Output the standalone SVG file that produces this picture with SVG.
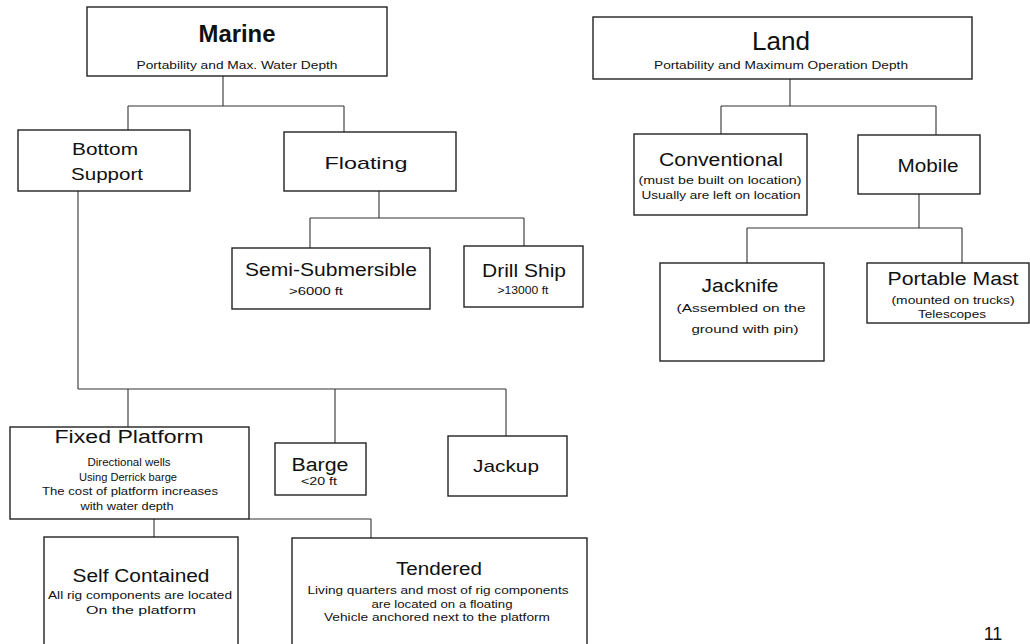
<svg xmlns="http://www.w3.org/2000/svg" width="1030" height="644" viewBox="0 0 1030 644">
<style>
.box{fill:#fff;stroke:#222;stroke-width:1.4}
.ln{fill:none;stroke:#333;stroke-width:1.1}
text{font-family:"Liberation Sans",Arial,sans-serif;fill:#111;text-anchor:middle}
.t1{font-size:17px}
.t2{font-size:18px}
.s{font-size:10.5px}
.s2{font-size:11px}
</style>
<rect width="1030" height="644" fill="#fff"/>
<g id="connectors">
<path class="ln" d="M223 76V106M128 106H344M128 106V130M344 106V132"/>
<path class="ln" d="M379 191V218M310 218H524M310 218V248M524 218V246"/>
<path class="ln" d="M78 191V389M78 389H506M128 389V427M335 389V443M506 389V436"/>
<path class="ln" d="M249 519H371M154 519V537M371 519V538"/>
<path class="ln" d="M790 79V106M721 106H936M721 106V134M936 106V135"/>
<path class="ln" d="M919 194V228M747 228H962M747 228V263M962 228V263"/>
</g>
<g id="marine"><rect class="box" x="87" y="7" width="300" height="69"/>
<text x="237" y="42" style="font-size:23px;font-weight:bold" textLength="77" lengthAdjust="spacingAndGlyphs">Marine</text>
<text class="s" x="237" y="69" textLength="201" lengthAdjust="spacingAndGlyphs">Portability and Max. Water Depth</text></g>
<g id="land"><rect class="box" x="593" y="17" width="379" height="62"/>
<text x="781" y="50" style="font-size:25px" textLength="58" lengthAdjust="spacingAndGlyphs">Land</text>
<text class="s" x="781" y="69" textLength="254" lengthAdjust="spacingAndGlyphs">Portability and Maximum Operation Depth</text></g>
<g id="bottom-support"><rect class="box" x="18" y="130" width="172" height="61"/>
<text class="t1" x="105" y="155" textLength="66" lengthAdjust="spacingAndGlyphs">Bottom</text>
<text class="t1" x="107" y="180" textLength="72" lengthAdjust="spacingAndGlyphs">Support</text></g>
<g id="floating"><rect class="box" x="284" y="132" width="172" height="59"/>
<text class="t1" x="366" y="169" textLength="83" lengthAdjust="spacingAndGlyphs">Floating</text></g>
<g id="semi-submersible"><rect class="box" x="232" y="248" width="198" height="61"/>
<text class="t2" x="331" y="276" textLength="172" lengthAdjust="spacingAndGlyphs">Semi-Submersible</text>
<text class="s" x="316" y="295" textLength="54" lengthAdjust="spacingAndGlyphs">&gt;6000 ft</text></g>
<g id="drill-ship"><rect class="box" x="464" y="246" width="119" height="61"/>
<text class="t2" x="524" y="277" textLength="84" lengthAdjust="spacingAndGlyphs">Drill Ship</text>
<text class="s" x="523" y="294" textLength="51" lengthAdjust="spacingAndGlyphs">&gt;13000 ft</text></g>
<g id="conventional"><rect class="box" x="634" y="134" width="173" height="81"/>
<text class="t2" x="721" y="166" textLength="124" lengthAdjust="spacingAndGlyphs">Conventional</text>
<text class="s2" x="720" y="184" textLength="163" lengthAdjust="spacingAndGlyphs">(must be built on location)</text>
<text class="s2" x="721" y="199" textLength="159" lengthAdjust="spacingAndGlyphs">Usually are left on location</text></g>
<g id="mobile"><rect class="box" x="858" y="135" width="122" height="59"/>
<text class="t2" x="928" y="172" textLength="61" lengthAdjust="spacingAndGlyphs">Mobile</text></g>
<g id="jacknife"><rect class="box" x="660" y="263" width="164" height="98"/>
<text class="t2" x="740" y="292" textLength="77" lengthAdjust="spacingAndGlyphs">Jacknife</text>
<text class="s2" x="741" y="312" textLength="129" lengthAdjust="spacingAndGlyphs">(Assembled on the</text>
<text class="s2" x="745" y="333" textLength="107" lengthAdjust="spacingAndGlyphs">ground with pin)</text></g>
<g id="portable-mast"><rect class="box" x="867" y="263" width="162" height="60"/>
<text class="t2" x="953" y="285" textLength="131" lengthAdjust="spacingAndGlyphs">Portable Mast</text>
<text class="s2" x="953" y="304" textLength="123" lengthAdjust="spacingAndGlyphs">(mounted on trucks)</text>
<text class="s2" x="952" y="318" textLength="68" lengthAdjust="spacingAndGlyphs">Telescopes</text></g>
<g id="fixed-platform"><rect class="box" x="10" y="427" width="239" height="92"/>
<text class="t2" x="129" y="443" textLength="149" lengthAdjust="spacingAndGlyphs">Fixed Platform</text>
<text class="s" x="129" y="466" textLength="83" lengthAdjust="spacingAndGlyphs">Directional wells</text>
<text class="s" x="128" y="481" textLength="98" lengthAdjust="spacingAndGlyphs">Using Derrick barge</text>
<text class="s" x="130" y="495" textLength="176" lengthAdjust="spacingAndGlyphs">The cost of platform increases</text>
<text class="s" x="127" y="510" textLength="93" lengthAdjust="spacingAndGlyphs">with water depth</text></g>
<g id="barge"><rect class="box" x="275" y="443" width="91" height="52"/>
<text class="t2" x="320" y="471" textLength="57" lengthAdjust="spacingAndGlyphs">Barge</text>
<text class="s" x="319" y="485" textLength="36" lengthAdjust="spacingAndGlyphs">&lt;20 ft</text></g>
<g id="jackup"><rect class="box" x="448" y="436" width="119" height="60"/>
<text class="t1" x="506" y="472" textLength="66" lengthAdjust="spacingAndGlyphs">Jackup</text></g>
<g id="self-contained"><rect class="box" x="44" y="537" width="194" height="110"/>
<text class="t2" x="141" y="582" textLength="137" lengthAdjust="spacingAndGlyphs">Self Contained</text>
<text class="s2" x="140" y="599" textLength="184" lengthAdjust="spacingAndGlyphs">All rig components are located</text>
<text class="s2" x="141" y="614" textLength="110" lengthAdjust="spacingAndGlyphs">On the platform</text></g>
<g id="tendered"><rect class="box" x="292" y="538" width="295" height="110"/>
<text class="t2" x="439" y="575" textLength="86" lengthAdjust="spacingAndGlyphs">Tendered</text>
<text class="s" x="438" y="594" textLength="261" lengthAdjust="spacingAndGlyphs">Living quarters and most of rig components</text>
<text class="s" x="442" y="608" textLength="141" lengthAdjust="spacingAndGlyphs">are located on a floating</text>
<text class="s" x="437" y="621" textLength="226" lengthAdjust="spacingAndGlyphs">Vehicle anchored next to the platform</text></g>
<text x="993" y="640" style="font-size:18px">11</text>
</svg>
